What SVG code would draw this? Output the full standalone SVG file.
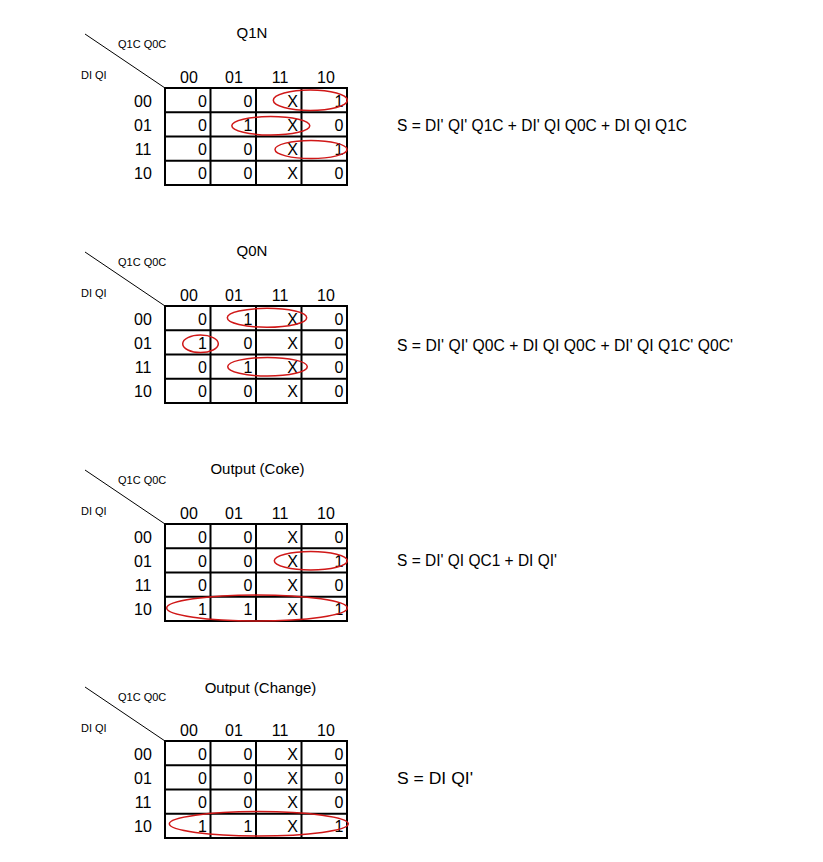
<svg xmlns="http://www.w3.org/2000/svg" xmlns:xlink="http://www.w3.org/1999/xlink" width="823" height="862" viewBox="0 0 823 862">
<style>
text{font-family:"Liberation Sans",Arial,sans-serif;fill:#000}
.t{font-size:15px;text-anchor:middle}
.h{font-size:16px;text-anchor:middle}
.r{font-size:16px;text-anchor:middle}
.v{font-size:16px;text-anchor:end}
.s{font-size:11px}
.eq{font-size:16px}
.g{fill:none;stroke:#000;stroke-width:2}
.d{stroke:#000;stroke-width:1}
.e{fill:none;stroke:#d01818;stroke-width:1.5}
</style>
<defs>
<g id="grid">
<rect class="g" x="165" y="88" width="182" height="97"/>
<path class="g" d="M210.5 88V185M256 88V185M301.5 88V185M165 112.25H347M165 136.5H347M165 160.75H347"/>
</g>
<g id="labels">
<line class="d" x1="85" y1="34" x2="165" y2="88"/>
<text class="s" x="118" y="48">Q1C Q0C</text>
<text class="s" x="81" y="79">DI QI</text>
<text class="h" x="189" y="82.7">00</text>
<text class="h" x="234" y="82.7">01</text>
<text class="h" x="280" y="82.7">11</text>
<text class="h" x="326" y="82.7">10</text>
<text class="r" x="143" y="106.7">00</text>
<text class="r" x="143" y="130.9">01</text>
<text class="r" x="143" y="155.2">11</text>
<text class="r" x="143" y="179.4">10</text>
</g>
</defs>

<g id="map-q1n">
<use xlink:href="#labels"/>
<use xlink:href="#grid"/>
<text class="t" x="252" y="38">Q1N</text>
<g class="vals">
<text class="v" x="207" y="106.7">0</text><text class="v" x="252.5" y="106.7">0</text><text class="v" x="298" y="106.7">X</text><text class="v" x="343.5" y="106.7">1</text>
<text class="v" x="207" y="130.9">0</text><text class="v" x="252.5" y="130.9">1</text><text class="v" x="298" y="130.9">X</text><text class="v" x="343.5" y="130.9">0</text>
<text class="v" x="207" y="155.2">0</text><text class="v" x="252.5" y="155.2">0</text><text class="v" x="298" y="155.2">X</text><text class="v" x="343.5" y="155.2">1</text>
<text class="v" x="207" y="179.4">0</text><text class="v" x="252.5" y="179.4">0</text><text class="v" x="298" y="179.4">X</text><text class="v" x="343.5" y="179.4">0</text>
</g>
<ellipse class="e" cx="310.3" cy="100.3" rx="37" ry="10.3"/>
<ellipse class="e" cx="270.8" cy="125.8" rx="39" ry="9.2"/>
<ellipse class="e" cx="311" cy="149.5" rx="36" ry="9"/>
<text class="eq" x="397" y="130.7" textLength="290" lengthAdjust="spacingAndGlyphs">S = DI' QI' Q1C + DI' QI Q0C + DI QI Q1C</text>
</g>

<g id="map-q0n" transform="translate(0,218)">
<use xlink:href="#labels"/>
<use xlink:href="#grid"/>
<text class="t" x="252" y="38">Q0N</text>
<g class="vals">
<text class="v" x="207" y="106.7">0</text><text class="v" x="252.5" y="106.7">1</text><text class="v" x="298" y="106.7">X</text><text class="v" x="343.5" y="106.7">0</text>
<text class="v" x="207" y="130.9">1</text><text class="v" x="252.5" y="130.9">0</text><text class="v" x="298" y="130.9">X</text><text class="v" x="343.5" y="130.9">0</text>
<text class="v" x="207" y="155.2">0</text><text class="v" x="252.5" y="155.2">1</text><text class="v" x="298" y="155.2">X</text><text class="v" x="343.5" y="155.2">0</text>
<text class="v" x="207" y="179.4">0</text><text class="v" x="252.5" y="179.4">0</text><text class="v" x="298" y="179.4">X</text><text class="v" x="343.5" y="179.4">0</text>
</g>
<ellipse class="e" cx="267" cy="99.8" rx="39.7" ry="9.5"/>
<ellipse class="e" cx="200.5" cy="125.8" rx="17.8" ry="8.8"/>
<ellipse class="e" cx="267.5" cy="148.7" rx="39.8" ry="9.3"/>
<text class="eq" x="397" y="132.7" textLength="336" lengthAdjust="spacingAndGlyphs">S = DI' QI' Q0C + DI QI Q0C + DI' QI Q1C' Q0C'</text>
</g>

<g id="map-coke" transform="translate(0,436)">
<use xlink:href="#labels"/>
<use xlink:href="#grid"/>
<text class="t" x="257.5" y="38">Output (Coke)</text>
<g class="vals">
<text class="v" x="207" y="106.7">0</text><text class="v" x="252.5" y="106.7">0</text><text class="v" x="298" y="106.7">X</text><text class="v" x="343.5" y="106.7">0</text>
<text class="v" x="207" y="130.9">0</text><text class="v" x="252.5" y="130.9">0</text><text class="v" x="298" y="130.9">X</text><text class="v" x="343.5" y="130.9">1</text>
<text class="v" x="207" y="155.2">0</text><text class="v" x="252.5" y="155.2">0</text><text class="v" x="298" y="155.2">X</text><text class="v" x="343.5" y="155.2">0</text>
<text class="v" x="207" y="179.4">1</text><text class="v" x="252.5" y="179.4">1</text><text class="v" x="298" y="179.4">X</text><text class="v" x="343.5" y="179.4">1</text>
</g>
<ellipse class="e" cx="310.8" cy="124.8" rx="36.5" ry="9.2"/>
<ellipse class="e" cx="257" cy="172" rx="90.3" ry="13"/>
<text class="eq" x="397" y="129.7" textLength="160" lengthAdjust="spacingAndGlyphs">S = DI' QI QC1 + DI QI'</text>
</g>

<g id="map-change" transform="translate(0,653)">
<use xlink:href="#labels"/>
<use xlink:href="#grid"/>
<text class="t" x="260.5" y="39.7">Output (Change)</text>
<g class="vals">
<text class="v" x="207" y="106.7">0</text><text class="v" x="252.5" y="106.7">0</text><text class="v" x="298" y="106.7">X</text><text class="v" x="343.5" y="106.7">0</text>
<text class="v" x="207" y="130.9">0</text><text class="v" x="252.5" y="130.9">0</text><text class="v" x="298" y="130.9">X</text><text class="v" x="343.5" y="130.9">0</text>
<text class="v" x="207" y="155.2">0</text><text class="v" x="252.5" y="155.2">0</text><text class="v" x="298" y="155.2">X</text><text class="v" x="343.5" y="155.2">0</text>
<text class="v" x="207" y="179.4">1</text><text class="v" x="252.5" y="179.4">1</text><text class="v" x="298" y="179.4">X</text><text class="v" x="343.5" y="179.4">1</text>
</g>
<ellipse class="e" cx="258.8" cy="170.8" rx="89.5" ry="12.2"/>
<text class="eq" x="397" y="130.7" textLength="76" lengthAdjust="spacingAndGlyphs">S = DI QI'</text>
</g>
<g id="connectors"/>
</svg>
